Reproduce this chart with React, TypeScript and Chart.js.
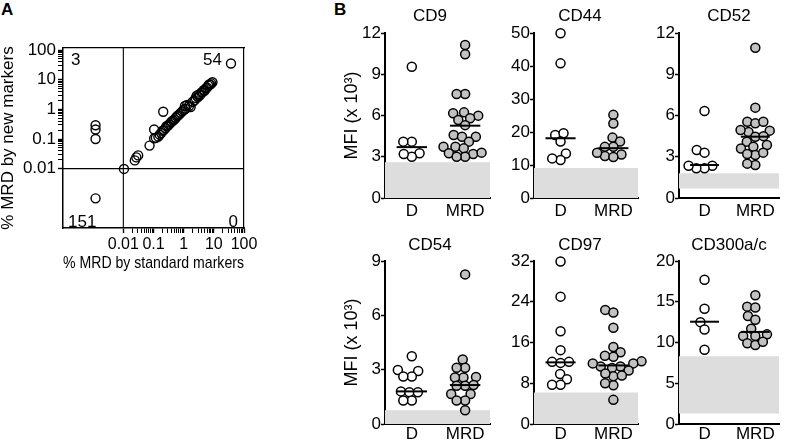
import React, { useEffect, useRef } from 'react';
import { Chart, registerables } from 'chart.js';

Chart.register(...registerables);

const FONT = "'Liberation Sans', Arial, Helvetica, sans-serif";
Chart.defaults.font.family = FONT;
Chart.defaults.color = '#000';

// ---------------- Panel A data ----------------
// % MRD by standard markers (x) and by new markers (y)
const stdMarkerPct = [
  0.0012, 0.0012, 0.0012, 0.0012,
  0.0105, 0.024, 0.027, 0.031, 0.074,
  0.105, 0.105, 0.12, 0.145, 0.21,
  0.16, 0.18, 0.2, 0.22, 0.25, 0.27, 0.3, 0.33, 0.37, 0.4, 0.45, 0.5, 0.55, 0.6, 0.65,
  0.72, 0.8, 0.9, 1.0, 1.1, 1.15, 1.3, 1.5, 1.7, 2.0, 2.3, 2.5, 2.7, 3.0, 3.2, 3.5,
  3.9, 4.3, 4.6, 5.0, 5.5, 6.0, 6.5, 7.0, 7.6, 8.2, 9.0,
  37,
];
const newMarkerPct = [
  0.29, 0.21, 0.1, 0.001,
  0.0098, 0.019, 0.024, 0.028, 0.06,
  0.105, 0.21, 0.11, 0.12, 0.83,
  0.14, 0.16, 0.19, 0.2, 0.23, 0.27, 0.28, 0.31, 0.35, 0.39, 0.42, 0.46, 0.52, 0.58, 0.62,
  0.68, 0.76, 0.85, 0.95, 1.3, 1.05, 1.4, 1.3, 1.2, 1.8, 2.0, 2.4, 2.9, 2.6, 3.2, 3.0,
  3.7, 3.8, 4.4, 4.3, 5.2, 5.4, 6.3, 6.9, 6.8, 7.5, 8.2,
  35,
];
const quadrantCounts = ['3', '54', '151', '0']; // top-left, top-right, bottom-left, bottom-right
const mrdCutoff = 0.01;
const logMajorTicks = [0.01, 0.1, 1, 10, 100];
const logMajorLabels = ['0.01', '0.1', '1', '10', '100'];
const A_MIN = 1e-4;
const A_XMAX = 100;
const A_YMAX = 117;

// ---------------- Panel B data (MFI x 10^3) ----------------
const groups = ['D', 'MRD'];

const cd9D = [9.55, 4.1, 4.1, 3.25, 3.0, 3.2];
const cd9MRD = [11.13, 10.45, 7.56, 7.56, 6.16, 6.23, 5.99, 5.8, 5.67, 5.3, 4.58, 4.46, 4.46, 4.1, 3.73, 3.73, 3.61, 3.25, 3.2, 3.3, 3.0, 3.0];
const cd9Medians = [3.7, 5.26];
const cd9Band = [0, 2.6];

const cd44D = [49.9, 40.8, 19.1, 19.6, 17.1, 13.5, 11.5, 12.0];
const cd44MRD = [25.2, 22.6, 18.3, 17.1, 15.5, 15.5, 13.2, 12.7, 13.7, 12.4];
const cd44Medians = [18.1, 15.1];
const cd44Band = [0, 9.1];

const cd52D = [6.33, 3.49, 3.3, 2.35, 2.16, 2.16, 2.35];
const cd52MRD = [10.93, 6.57, 5.55, 5.43, 5.55, 4.9, 4.8, 4.95, 4.46, 4.5, 4.1, 3.85, 3.73, 3.6, 3.13, 3.3, 3.2, 2.4, 2.5];
const cd52Medians = [2.4, 4.46];
const cd52Band = [0.7, 1.8];

const cd54D = [3.74, 2.98, 2.93, 2.62, 2.62, 1.8, 1.75, 1.75, 1.3, 1.3];
const cd54MRD = [8.26, 3.56, 3.11, 3.11, 2.57, 2.57, 2.6, 2.11, 2.15, 2.11, 1.66, 1.66, 1.3, 1.3, 0.76];
const cd54Medians = [1.8, 2.15];
const cd54Band = [0, 0.76];

const cd97D = [31.9, 25.0, 18.2, 14.5, 12.2, 12.0, 12.2, 9.8, 8.8, 7.7, 7.7];
const cd97MRD = [22.4, 21.9, 18.9, 15.1, 14.1, 13.2, 13.4, 12.3, 11.9, 11.3, 11.3, 11.9, 11.0, 10.5, 9.35, 9.9, 9.5, 7.6, 8.0, 4.74];
const cd97Medians = [12.1, 11.5];
const cd97Band = [0, 6.2];

const cd300D = [17.7, 14.15, 12.5, 11.6, 9.1];
const cd300MRD = [15.8, 14.4, 14.3, 13.25, 12.8, 11.7, 10.8, 11.0, 10.8, 9.9, 9.7, 10.1];
const cd300Medians = [12.55, 11.3];
const cd300Band = [1.3, 8.3];

const panelsB = [
  { title: 'CD9', yMax: 12, yStep: 3, band: cd9Band, d: cd9D, mrd: cd9MRD, med: cd9Medians, col: 0, row: 0 },
  { title: 'CD44', yMax: 50, yStep: 10, band: cd44Band, d: cd44D, mrd: cd44MRD, med: cd44Medians, col: 1, row: 0 },
  { title: 'CD52', yMax: 12, yStep: 3, band: cd52Band, d: cd52D, mrd: cd52MRD, med: cd52Medians, col: 2, row: 0 },
  { title: 'CD54', yMax: 9, yStep: 3, band: cd54Band, d: cd54D, mrd: cd54MRD, med: cd54Medians, col: 0, row: 1 },
  { title: 'CD97', yMax: 32, yStep: 8, band: cd97Band, d: cd97D, mrd: cd97MRD, med: cd97Medians, col: 1, row: 1 },
  { title: 'CD300a/c', yMax: 20, yStep: 5, band: cd300Band, d: cd300D, mrd: cd300MRD, med: cd300Medians, col: 2, row: 1 },
];

// ---------------- layout ----------------
const X_MIN = 0;
const X_MAX = 3.8;
const GROUP_X = [0.97, 2.9];
const MEDIAN_HALF = 0.55;
const SWARM_DIAM = 8.5;

const COL_AXIS_X = [385, 534, 679];
const COL_PLOT_W = [105, 104, 104];
const COL_CANVAS_LEFT = [335, 504, 649];
const COL_CANVAS_RIGHT = [525, 656, 785];
const COL_TITLE_FULL = [true, true, false];
const ROW_CANVAS_TOP = [0, 220];
const ROW_PLOT_TOP = [33, 261];
const ROW_PLOT_BOTTOM = [198, 424];
const ROW_CANVAS_BOTTOM = [220, 442];
const ROW_TITLE_PAD = [{ top: 6, bottom: 6.6 }, { top: 14.8, bottom: 5.8 }];
const ROW_XLABEL_PAD = [3, 0];

const GRAY_BAND = '#dddddd';
const MRD_FILL = '#c2c2c2';

// Beeswarm placement: keeps the value exact, offsets horizontally to avoid overlap
function swarm(values: number[], center: number, pxPerX: number, pxPerY: number, diam: number) {
  const order = values.map((_, i) => i).sort((a, b) => values[a] - values[b]);
  const placed: { x: number; y: number }[] = [];
  const out: { x: number; y: number }[] = new Array(values.length);
  for (const i of order) {
    const y = values[i] * pxPerY;
    const intervals: number[][] = [];
    for (const p of placed) {
      const dy = Math.abs(p.y - y);
      if (dy < diam) {
        const w = Math.sqrt(diam * diam - dy * dy);
        intervals.push([p.x - w, p.x + w]);
      }
    }
    const cands = [0];
    intervals.forEach(([a, b]) => cands.push(a, b));
    cands.sort((a, b) => Math.abs(a) - Math.abs(b));
    let best = 0;
    for (const c of cands) {
      if (intervals.every(([a, b]) => c <= a + 1e-6 || c >= b - 1e-6)) { best = c; break; }
    }
    placed.push({ x: best, y });
    out[i] = { x: center + best / pxPerX, y: values[i] };
  }
  return out;
}

function makePanelB(p: any) {
  const { col, row } = p;
  const canvasW = COL_CANVAS_RIGHT[col] - COL_CANVAS_LEFT[col];
  const yAxisW = COL_AXIS_X[col] - COL_CANVAS_LEFT[col];
  const plotW = COL_PLOT_W[col];
  const padW = canvasW - yAxisW - plotW;
  const plotH = ROW_PLOT_BOTTOM[row] - ROW_PLOT_TOP[row];
  const xAxisH = ROW_CANVAS_BOTTOM[row] - ROW_PLOT_BOTTOM[row];
  const pxX = plotW / (X_MAX - X_MIN);
  const pxY = plotH / p.yMax;
  const dPts = swarm(p.d, GROUP_X[0], pxX, pxY, SWARM_DIAM);
  const mPts = swarm(p.mrd, GROUP_X[1], pxX, pxY, SWARM_DIAM);
  const medLine = (gi: number) => ({
    type: 'line',
    data: [{ x: GROUP_X[gi] - MEDIAN_HALF, y: p.med[gi] }, { x: GROUP_X[gi] + MEDIAN_HALF, y: p.med[gi] }],
    borderColor: '#000', borderWidth: 2, pointRadius: 0, fill: false, order: 0, clip: false,
  });
  const dots = (pts: any[], fill: string) => ({
    type: 'scatter', data: pts, pointRadius: 4.5, pointHoverRadius: 4.5, borderWidth: 1.5,
    borderColor: '#000', backgroundColor: fill, pointBackgroundColor: fill, order: 1, clip: false,
  });
  return {
    type: 'scatter',
    data: {
      datasets: [
        {
          type: 'line',
          data: [{ x: X_MIN, y: p.band[1] }, { x: X_MAX, y: p.band[1] }],
          fill: { value: p.band[0] }, backgroundColor: GRAY_BAND, borderWidth: 0, pointRadius: 0, order: 3,
        },
        dots(dPts, '#ffffff'),
        dots(mPts, MRD_FILL),
        medLine(0),
        medLine(1),
      ],
    },
    options: {
      animation: false, responsive: false, devicePixelRatio: 1, events: [],
      layout: { padding: 0 },
      plugins: {
        legend: { display: false }, tooltip: { enabled: false },
        title: {
          display: true, text: p.title, fullSize: COL_TITLE_FULL[col], color: '#000',
          font: { size: 17, weight: 'normal', lineHeight: 1.2 }, padding: ROW_TITLE_PAD[row],
        },
      },
      scales: {
        x: {
          type: 'linear', position: 'bottom', min: X_MIN, max: X_MAX, bounds: 'data', z: 1,
          afterBuildTicks: (s: any) => { s.ticks = GROUP_X.map((v) => ({ value: v })); },
          afterFit: (s: any) => { s.height = xAxisH; },
          grid: { display: false, drawTicks: false },
          border: { display: true, color: '#000', width: 2 },
          ticks: {
            autoSkip: false, maxRotation: 0, padding: ROW_XLABEL_PAD[row], color: '#000',
            font: { size: 17 }, callback: (_v: any, i: number) => groups[i],
          },
        },
        y: {
          type: 'linear', position: 'left', min: 0, max: p.yMax, bounds: 'data', z: 1,
          afterFit: (s: any) => { s.width = yAxisW; },
          grid: { display: true, drawOnChartArea: false, drawTicks: true, tickLength: 4, tickColor: '#000', tickWidth: 1.5 },
          border: { display: true, color: '#000', width: 2 },
          ticks: { stepSize: p.yStep, padding: 0, color: '#000', font: { size: 17 } },
          title: {
            display: col === 0, text: 'MFI (x 10³)', color: '#000',
            font: { size: 18, lineHeight: 1 }, padding: { top: 8, bottom: 0 },
          },
        },
        pad: {
          type: 'linear', position: 'right', min: 0, max: 1, display: true,
          ticks: { display: false }, grid: { display: false, drawTicks: false }, border: { display: false },
          afterFit: (s: any) => { s.width = padW; },
        },
      },
    },
  };
}

// ---------------- Panel A ----------------
function logTickList() {
  const out: number[] = [];
  logMajorTicks.forEach((t, i) => {
    out.push(t);
    if (i < logMajorTicks.length - 1) for (let m = 2; m <= 9; m++) out.push(t * m);
  });
  return out;
}
const majorIndex = (v: number) => logMajorTicks.findIndex((t) => Math.abs(t - v) / t < 1e-6);

const quadrantLabelPlugin = {
  id: 'quadrantLabels',
  afterDatasetsDraw(chart: any) {
    const { ctx, chartArea } = chart;
    const { left, right, top, bottom } = chartArea;
    ctx.save();
    ctx.font = `17px ${FONT}`;
    ctx.fillStyle = '#000';
    ctx.textBaseline = 'alphabetic';
    ctx.textAlign = 'left';
    ctx.fillText(quadrantCounts[0], left + 8, top + 17);
    ctx.textAlign = 'right';
    ctx.fillText(quadrantCounts[1], right - 22, top + 17);
    ctx.textAlign = 'left';
    ctx.fillText(quadrantCounts[2], left + 5, bottom - 1);
    ctx.textAlign = 'right';
    ctx.fillText(quadrantCounts[3], right - 6, bottom - 1);
    ctx.restore();
  },
};

function logAxis(position: string, max: number, titleText: string, fitSize: (s: any) => void, titlePad: any) {
  return {
    type: 'logarithmic', position, min: A_MIN, max, bounds: 'data',
    afterBuildTicks: (s: any) => { s.ticks = logTickList().map((v) => ({ value: v })); },
    afterFit: fitSize,
    border: { display: true, color: '#000', width: 1.5 },
    grid: {
      display: true, drawOnChartArea: false, drawTicks: true, tickLength: 5, tickColor: '#000',
      tickWidth: (c: any) => (c.tick && majorIndex(c.tick.value) >= 0 ? 1.4 : 1),
    },
    ticks: {
      autoSkip: false, maxRotation: 0, padding: position === 'left' ? 2 : 1.5, color: '#000',
      font: { size: position === 'left' ? 17 : 16 },
      callback: (v: any) => { const i = majorIndex(Number(v)); return i >= 0 ? logMajorLabels[i] : ''; },
    },
    title: { display: true, text: titleText, color: '#000', font: { size: 17, lineHeight: 1 }, padding: titlePad },
  };
}

function makePanelA() {
  const frameAxis = (position: string, horizontal: boolean) => ({
    type: 'linear', position, min: 0, max: 1, display: true,
    ticks: { display: false }, grid: { display: false, drawTicks: false },
    border: { display: true, color: '#000', width: 1.2 },
    afterFit: (s: any) => { if (horizontal) s.height = 0; else s.width = 0; },
  });
  return {
    type: 'scatter',
    data: {
      datasets: [
        {
          type: 'line', data: [{ x: mrdCutoff, y: A_MIN }, { x: mrdCutoff, y: A_YMAX }],
          borderColor: '#000', borderWidth: 1.1, pointRadius: 0, fill: false, order: 2,
        },
        {
          type: 'line', data: [{ x: A_MIN, y: mrdCutoff }, { x: A_XMAX, y: mrdCutoff }],
          borderColor: '#000', borderWidth: 1.1, pointRadius: 0, fill: false, order: 2,
        },
        {
          type: 'scatter',
          data: stdMarkerPct.map((x, i) => ({ x, y: newMarkerPct[i] })),
          pointRadius: 4.5, pointHoverRadius: 4.5, borderWidth: 1.4, borderColor: '#000',
          backgroundColor: 'rgba(0,0,0,0)', order: 1, clip: false,
        },
      ],
    },
    options: {
      animation: false, responsive: false, devicePixelRatio: 1, events: [],
      layout: { padding: { left: 0, top: 48, right: 31, bottom: 0 } },
      plugins: { legend: { display: false }, tooltip: { enabled: false }, title: { display: false } },
      scales: {
        x: logAxis('bottom', A_XMAX, '% MRD by standard markers', (s: any) => { s.height = 46; }, { top: 0, bottom: 2.5 }),
        y: logAxis('left', A_YMAX, '% MRD by new markers', (s: any) => { s.width = 63; }, { top: 0, bottom: 0 }),
        frameTop: frameAxis('top', true),
        frameRight: frameAxis('right', false),
      },
    },
    plugins: [quadrantLabelPlugin],
  };
}

function ChartCanvas({ left, top, width, height, make }: any) {
  const ref = useRef<HTMLCanvasElement | null>(null);
  useEffect(() => {
    const chart = new Chart(ref.current as HTMLCanvasElement, make());
    return () => chart.destroy();
  }, []);
  return (
    <canvas
      ref={ref}
      width={width}
      height={height}
      style={{ position: 'absolute', left, top, width, height, display: 'block' }}
    />
  );
}

const letterStyle: any = {
  position: 'absolute', fontFamily: FONT, fontWeight: 'bold', fontSize: 17, lineHeight: '17px', color: '#000',
};

export default function App() {
  return (
    <div style={{ position: 'absolute', left: 0, top: 0, width: 785, height: 442, background: '#fff', overflow: 'hidden' }}>
      <div style={{ ...letterStyle, left: 1, top: 1 }}>A</div>
      <div style={{ ...letterStyle, left: 334, top: 1 }}>B</div>
      <ChartCanvas left={0} top={0} width={275} height={274} make={makePanelA} />
      {panelsB.map((p) => (
        <ChartCanvas
          key={p.title}
          left={COL_CANVAS_LEFT[p.col]}
          top={ROW_CANVAS_TOP[p.row]}
          width={COL_CANVAS_RIGHT[p.col] - COL_CANVAS_LEFT[p.col]}
          height={ROW_CANVAS_BOTTOM[p.row] - ROW_CANVAS_TOP[p.row]}
          make={() => makePanelB(p)}
        />
      ))}
    </div>
  );
}
